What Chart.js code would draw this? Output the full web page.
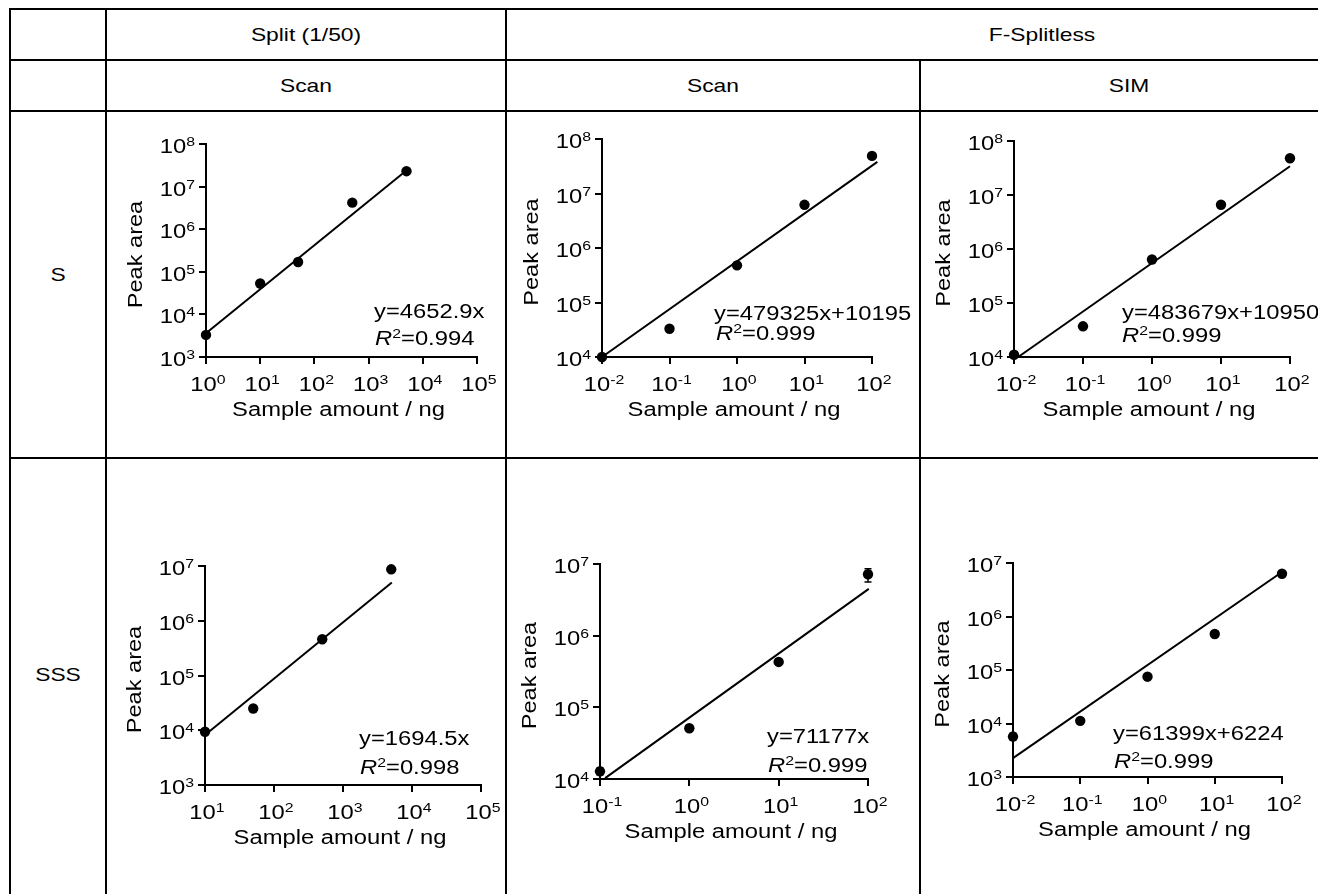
<!DOCTYPE html>
<html>
<head>
<meta charset="utf-8">
<script src="https://cdn.jsdelivr.net/npm/chart.js@4.4.1/dist/chart.umd.min.js"></script>
<style>
html, body { margin: 0; padding: 0; background: #fff; }
body { width: 1318px; height: 894px; overflow: hidden; position: relative;
       font-family: "Liberation Sans", Arial, sans-serif; }
.hl { position: absolute; height: 2px; background: #000; }
.vl { position: absolute; width: 2px; background: #000; }
.lbl { position: absolute; font-size: 19px; color: #000; white-space: nowrap;
       transform: translate(-50%, -50%) scaleX(1.2); }
canvas { position: absolute; }
</style>
</head>
<body>
<!-- table grid -->
<div class="hl" style="left:9px;top:8px;width:1309px"></div>
<div class="hl" style="left:9px;top:59px;width:1309px"></div>
<div class="hl" style="left:9px;top:110px;width:1309px"></div>
<div class="hl" style="left:9px;top:457px;width:1309px"></div>
<div class="vl" style="left:9px;top:8px;height:886px"></div>
<div class="vl" style="left:105px;top:8px;height:886px"></div>
<div class="vl" style="left:505px;top:8px;height:886px"></div>
<div class="vl" style="left:919px;top:59px;height:835px"></div>

<!-- header texts -->
<div class="lbl" style="left:306px;top:35px">Split (1/50)</div>
<div class="lbl" style="left:1042px;top:35px">F-Splitless</div>
<div class="lbl" style="left:306px;top:86px">Scan</div>
<div class="lbl" style="left:713px;top:86px">Scan</div>
<div class="lbl" style="left:1129px;top:86px">SIM</div>
<div class="lbl" style="left:58px;top:275px">S</div>
<div class="lbl" style="left:58px;top:675px">SSS</div>

<canvas id="c1"></canvas>
<canvas id="c2"></canvas>
<canvas id="c3"></canvas>
<canvas id="c4"></canvas>
<canvas id="c5"></canvas>
<canvas id="c6"></canvas>

<script>
// ---- data: sample amount (ng) ----
var amountSplitS = [1, 10, 50, 500, 5000];
var amountFspS = [0.01, 0.1, 1, 10, 100];
var amountSplitSSS = [10, 50, 500, 5000];
var amountScanSSS = [0.1, 1, 10, 100];
var amountSimSSS = [0.01, 0.1, 1, 10, 100];

// ---- data: peak area ----
var areaSplitScanS = [3300, 53000, 170000, 4200000, 23000000];
var areaFspScanS = [10000, 33000, 480000, 6200000, 49000000];
var areaFspSimS = [11000, 37000, 640000, 6600000, 48000000];
var areaSplitScanSSS = [9400, 25000, 460000, 8700000];
var areaFspScanSSS = [12800, 51000, 430000, 7200000];
var areaFspSimSSS = [5700, 11200, 75000, 470000, 6300000];

// error bars (where visible)
var errLowScanSSS = [11500, null, 400000, 5600000];
var errHighScanSSS = [14200, null, 470000, 8600000];
var errLowSimSSS = [5000, null, null, null, null];
var errHighSimSSS = [6600, null, null, null, null];

// ---- regression lines (end points as drawn) ----
var fitXSplitScanS = [1, 4200], fitYSplitScanS = [3600, 20000000];
var fitXFspScanS = [0.01, 120], fitYFspScanS = [10000, 38000000];
var fitXFspSimS = [0.0115, 100], fitYFspSimS = [10000, 34000000];
var fitXSplitScanSSS = [10, 5100], fitYSplitScanSSS = [8200, 5000000];
var fitXFspScanSSS = [0.114, 102], fitYFspScanSSS = [10300, 4500000];
var fitXFspSimSSS = [0.01, 100], fitYFspSimSSS = [2260, 6800000];

// ---- tick labels (powers of ten) ----
var xExpSplitS = [0, 1, 2, 3, 4, 5];
var yExpSplitS = [3, 4, 5, 6, 7, 8];
var xExpFsp = [-2, -1, 0, 1, 2];
var yExpFspS = [4, 5, 6, 7, 8];
var xExpSplitSSS = [1, 2, 3, 4, 5];
var yExpSplitSSS = [3, 4, 5, 6, 7];
var xExpScanSSS = [-1, 0, 1, 2];
var yExpScanSSS = [4, 5, 6, 7];
var yExpSimSSS = [3, 4, 5, 6, 7];

var equations = ['y=4652.9x', 'y=479325x+10195', 'y=483679x+10950',
                 'y=1694.5x', 'y=71177x', 'y=61399x+6224'];
var r2Values = ['0.994', '0.999', '0.999', '0.998', '0.999', '0.999'];

// ---- layout (page pixels) ----
var FONT = '"Liberation Sans", Arial, sans-serif';
var SX = 1.22;      // horizontal stretch of the original lettering
var MAIN = 19.5, SUP = 13;
var TL = 7;         // tick length

var panels = [
  {id: 'c1', cell: [107, 112, 398, 345], x0: 206, x1: 477, yTop: 144, y0: 357,
   xs: amountSplitS, ys: areaSplitScanS, fx: fitXSplitScanS, fy: fitYSplitScanS,
   xe: xExpSplitS, ye: yExpSplitS, eq: [168, -44], r2: [169, -17]},
  {id: 'c2', cell: [507, 112, 412, 345], x0: 602, x1: 872, yTop: 139, y0: 357,
   xs: amountFspS, ys: areaFspScanS, fx: fitXFspScanS, fy: fitYFspScanS,
   xe: xExpFsp, ye: yExpFspS, eq: [112, -42], r2: [114, -22]},
  {id: 'c3', cell: [921, 112, 397, 345], x0: 1014, x1: 1290, yTop: 141, y0: 357,
   xs: amountFspS, ys: areaFspSimS, fx: fitXFspSimS, fy: fitYFspSimS,
   xe: xExpFsp, ye: yExpFspS, eq: [108, -43], r2: [108, -20]},
  {id: 'c4', cell: [107, 459, 398, 435], x0: 205, x1: 481, yTop: 566, y0: 785,
   xs: amountSplitSSS, ys: areaSplitScanSSS, fx: fitXSplitScanSSS, fy: fitYSplitScanSSS,
   xe: xExpSplitSSS, ye: yExpSplitSSS, eq: [154, -45], r2: [155, -16]},
  {id: 'c5', cell: [507, 459, 412, 435], x0: 600, x1: 868, yTop: 564, y0: 779,
   xs: amountScanSSS, ys: areaFspScanSSS, fx: fitXFspScanSSS, fy: fitYFspScanSSS,
   xe: xExpScanSSS, ye: yExpScanSSS, eq: [167, -41], r2: [168, -12],
   eLo: errLowScanSSS, eHi: errHighScanSSS},
  {id: 'c6', cell: [921, 459, 397, 435], x0: 1013, x1: 1282, yTop: 563, y0: 777,
   xs: amountSimSSS, ys: areaFspSimSSS, fx: fitXFspSimSSS, fy: fitYFspSimSSS,
   xe: xExpFsp, ye: yExpSimSSS, eq: [100, -42], r2: [101, -14],
   eLo: errLowSimSSS, eHi: errHighSimSSS}
];

function textWidth(ctx, s, size, italic) {
  ctx.save();
  ctx.font = (italic ? 'italic ' : '') + size + 'px ' + FONT;
  var w = ctx.measureText(s).width * SX;
  ctx.restore();
  return w;
}

function drawText(ctx, s, x, y, size, opt) {
  opt = opt || {};
  var w = textWidth(ctx, s, size, opt.italic);
  var left = x;
  if (opt.align === 'center') left = x - w / 2;
  if (opt.align === 'right') left = x - w;
  ctx.save();
  ctx.font = (opt.italic ? 'italic ' : '') + size + 'px ' + FONT;
  ctx.textBaseline = opt.baseline || 'alphabetic';
  ctx.textAlign = 'left';
  ctx.fillStyle = '#000';
  ctx.translate(left, y);
  ctx.scale(SX, 1);
  ctx.fillText(s, 0, 0);
  ctx.restore();
  return w;
}

function drawPower(ctx, e, x, base, align) {
  var sup = e < 0 ? '-' + (-e) : String(e);
  var wb = textWidth(ctx, '10', MAIN), ws = textWidth(ctx, sup, SUP);
  var left = align === 'center' ? x - (wb + ws) / 2 : x - wb - ws;
  drawText(ctx, '10', left, base, MAIN);
  drawText(ctx, sup, left + wb, base - 7, SUP);
}

var labelsPlugin = {
  id: 'labels',
  beforeDatasetsDraw: function (chart) {
    var p = chart.config.options.panel;
    if (!p.eLo) return;
    var ctx = chart.ctx, xs = chart.scales.x, ys = chart.scales.y;
    ctx.save();
    ctx.strokeStyle = '#000';
    ctx.lineWidth = 1.5;
    p.xs.forEach(function (v, i) {
      if (p.eLo[i] == null) return;
      var px = xs.getPixelForValue(v);
      var lo = ys.getPixelForValue(p.eLo[i]), hi = ys.getPixelForValue(p.eHi[i]);
      ctx.beginPath();
      ctx.moveTo(px, lo); ctx.lineTo(px, hi);
      ctx.moveTo(px - 3.5, lo); ctx.lineTo(px + 3.5, lo);
      ctx.moveTo(px - 3.5, hi); ctx.lineTo(px + 3.5, hi);
      ctx.stroke();
    });
    ctx.restore();
  },
  afterDraw: function (chart) {
    var p = chart.config.options.panel;
    var idx = panels.indexOf(p);
    var ctx = chart.ctx, xs = chart.scales.x, ys = chart.scales.y;
    var a = chart.chartArea;
    // tick labels
    p.xe.forEach(function (e) {
      drawPower(ctx, e, xs.getPixelForValue(Math.pow(10, e)) + 2, a.bottom + 34, 'center');
    });
    p.ye.forEach(function (e) {
      drawPower(ctx, e, a.left - 11, ys.getPixelForValue(Math.pow(10, e)) + 9, 'right');
    });
    // axis titles
    drawText(ctx, 'Sample amount / ng', (a.left + a.right) / 2 - 3, a.bottom + 54, MAIN,
             {align: 'center', baseline: 'middle'});
    ctx.save();
    ctx.translate(a.left - 70, (a.top + a.bottom) / 2 + 4);
    ctx.rotate(-Math.PI / 2);
    ctx.scale(1.15, 1);
    ctx.font = '20.5px ' + FONT;
    ctx.fillStyle = '#000';
    ctx.textAlign = 'center';
    ctx.textBaseline = 'middle';
    ctx.fillText('Peak area', 0, 0);
    ctx.restore();
    // regression equation
    drawText(ctx, equations[idx], a.left + p.eq[0], a.bottom + p.eq[1], MAIN, {baseline: 'middle'});
    var x = a.left + p.r2[0], y = a.bottom + p.r2[1];
    x += drawText(ctx, 'R', x, y, MAIN, {italic: true, baseline: 'middle'});
    x += drawText(ctx, '2', x, y - 6, SUP, {baseline: 'middle'});
    drawText(ctx, '=' + r2Values[idx], x, y, MAIN, {baseline: 'middle'});
  }
};

function axis(exps, horizontal) {
  return {
    type: 'logarithmic',
    position: horizontal ? 'bottom' : 'left',
    min: Math.pow(10, exps[0]),
    max: Math.pow(10, exps[exps.length - 1]),
    afterBuildTicks: function (s) {
      s.ticks = exps.map(function (e) { return {value: Math.pow(10, e)}; });
    },
    afterFit: function (s) {
      if (horizontal) s.height = TL; else s.width = TL;
    },
    ticks: {display: false},
    grid: {display: true, drawOnChartArea: false, drawTicks: true, tickLength: TL,
           color: '#000', lineWidth: 2},
    border: {display: true, color: '#000', width: 2}
  };
}

panels.forEach(function (p) {
  var cv = document.getElementById(p.id);
  var left = p.cell[0], top = p.cell[1], w = p.cell[2], h = p.cell[3];
  cv.width = w; cv.height = h;
  cv.style.left = left + 'px'; cv.style.top = top + 'px';
  cv.style.width = w + 'px'; cv.style.height = h + 'px';

  var points = p.xs.map(function (x, i) { return {x: x, y: p.ys[i]}; });
  var fit = p.fx.map(function (x, i) { return {x: x, y: p.fy[i]}; });

  new Chart(cv.getContext('2d'), {
    type: 'scatter',
    data: {
      datasets: [
        {data: points, showLine: false, pointRadius: 5.2, pointHoverRadius: 5.2,
         pointBackgroundColor: '#000', pointBorderColor: '#000', pointBorderWidth: 0,
         clip: false, order: 0},
        {data: fit, showLine: true, pointRadius: 0, borderColor: '#000', borderWidth: 2,
         clip: false, order: 1}
      ]
    },
    options: {
      panel: p,
      responsive: false,
      animation: false,
      devicePixelRatio: 1,
      events: [],
      layout: {
        autoPadding: false,
        padding: {
          left: p.x0 - left - TL,
          right: left + w - p.x1,
          top: p.yTop - top,
          bottom: top + h - p.y0 - TL
        }
      },
      plugins: {legend: {display: false}, tooltip: {enabled: false}},
      scales: {x: axis(p.xe, true), y: axis(p.ye, false)}
    },
    plugins: [labelsPlugin]
  });
});
</script>
</body>
</html>
